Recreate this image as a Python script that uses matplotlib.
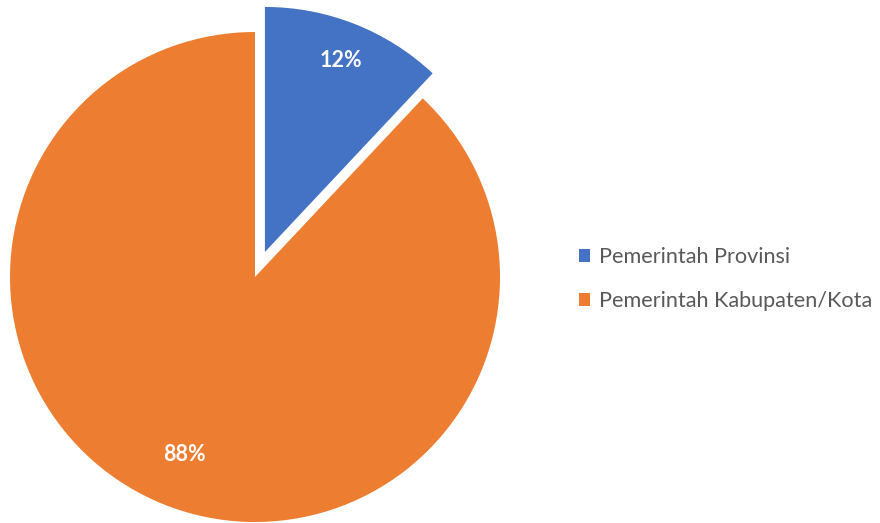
import numpy as np
import matplotlib
matplotlib.use("Agg")
import matplotlib.pyplot as plt

labels = ["Pemerintah Provinsi", "Pemerintah Kabupaten/Kota"]
shares = [12, 88]
colors = ["#4472C4", "#ED7D31"]
explode = [0.11, 0.0]
label_dist = [0.84, 0.78]

plt.rcParams["font.family"] = ["Lato", "DejaVu Sans"]

W, H = 880, 523
fig = plt.figure(figsize=(W / 100, H / 100), dpi=100)
cx, cy, r = 255, 277, 245
ax = fig.add_axes([(cx - r) / W, (H - cy - r) / H, 2 * r / W, 2 * r / H])

wedges, _ = ax.pie(shares, colors=colors, explode=explode, startangle=90,
                   counterclock=False, radius=1.0,
                   wedgeprops=dict(linewidth=0), frame=True)
ax.set_xlim(-1, 1)
ax.set_ylim(-1, 1)
ax.set_aspect("equal")
ax.axis("off")

for w, val, d in zip(wedges, shares, label_dist):
    mid = np.deg2rad((w.theta1 + w.theta2) / 2)
    x0, y0 = w.center
    ax.text(x0 + d * np.cos(mid), y0 + d * np.sin(mid), f"{val}%",
            ha="center", va="center", color="white", fontsize=15.5,
            fontweight="bold")

fig.legend(wedges, labels, loc="center left",
           bbox_to_anchor=(559 / W, 1 - 279 / H), frameon=False,
           fontsize=15.6, labelcolor="#595959", handlelength=0.55,
           handleheight=0.55, handletextpad=0.4, labelspacing=1.1)

fig.savefig("out.png", dpi=100)
